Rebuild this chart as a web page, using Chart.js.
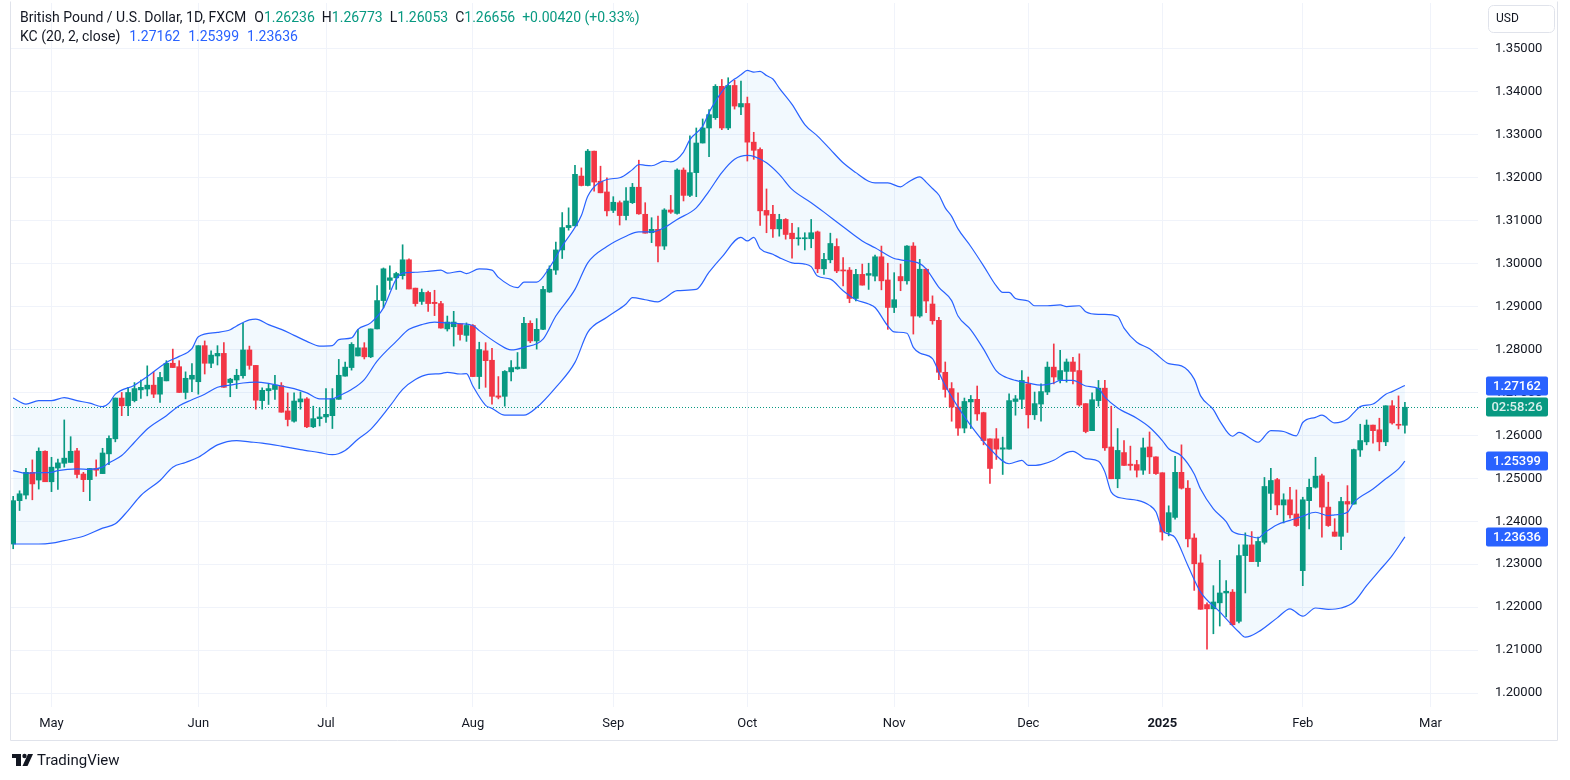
<!DOCTYPE html>
<html><head><meta charset="utf-8">
<script src="https://cdn.jsdelivr.net/npm/chart.js@4.4.1/dist/chart.umd.min.js"></script>
<style>html,body{margin:0;padding:0;background:#fff;}canvas{display:block;}</style>
</head><body>
<canvas id="c" width="1570" height="780"></canvas>
<script>
// ---- Daily OHLC, GBP/USD (FXCM), first bar = index -6 (Apr 23 2024) ----
const firstBarIndex = -6;
const openP = [
1.2347,1.2448,1.2461,1.2514,1.2496,1.2563,1.2492,1.2524,1.2535,1.2537,
1.2564,1.2510,1.2497,1.2523,1.2511,1.2557,1.2592,1.2687,1.2669,1.2681,
1.2706,1.2708,1.2717,1.2696,1.2727,1.2768,1.2760,1.2700,1.2731,1.2725,
1.2809,1.2768,1.2785,1.2791,1.2723,1.2729,1.2739,1.2799,1.2763,1.2681,
1.2704,1.2707,1.2716,1.2657,1.2633,1.2678,1.2685,1.2620,1.2639,1.2643,
1.2646,1.2684,1.2738,1.2758,1.2785,1.2804,1.2783,1.2848,1.2914,1.2961,
1.2967,1.2972,1.3009,1.2943,1.2912,1.2933,1.2910,1.2907,1.2848,1.2853,
1.2860,1.2833,1.2856,1.2737,1.2797,1.2775,1.2692,1.2691,1.2748,1.2755,
1.2756,1.2861,1.2820,1.2847,1.2934,1.2985,1.3032,1.3084,1.3088,1.3204,
1.3182,1.3262,1.3192,1.3167,1.3124,1.3142,1.3112,1.3142,1.3178,1.3115,
1.3072,1.3080,1.3041,1.3125,1.3117,1.3218,1.3159,1.3212,1.3281,1.3316,
1.3340,1.3413,1.3316,1.3415,1.3365,1.3373,1.3283,1.3266,1.3124,1.3115,
1.3081,1.3103,1.3071,1.3058,1.3058,1.3058,1.3074,1.2988,1.3009,1.3040,
1.2985,1.2985,1.2919,1.2975,1.2973,1.2971,1.3016,1.2962,1.2898,1.2970,
1.2960,1.3041,1.2878,1.2987,1.2906,1.2868,1.2747,1.2709,1.2666,1.2617,
1.2678,1.2684,1.2653,1.2592,1.2592,1.2568,1.2568,1.2679,1.2684,1.2720,
1.2648,1.2673,1.2701,1.2759,1.2730,1.2749,1.2771,1.2751,1.2674,1.2611,
1.2681,1.2710,1.2573,1.2499,1.2560,1.2533,1.2532,1.2519,1.2573,1.2550,
1.2513,1.2375,1.2409,1.2514,1.2477,1.2361,1.2303,1.2206,1.2196,1.2210,
1.2233,1.2235,1.2167,1.2320,1.2345,1.2306,1.2351,1.2465,1.2497,1.2438,
1.2450,1.2417,1.2285,1.2448,1.2479,1.2506,1.2433,1.2375,1.2365,1.2446,
1.2440,1.2566,1.2585,1.2624,1.2613,1.2585,1.2669,1.2624,1.26236];
const highP = [
1.2458,1.2471,1.2523,1.2543,1.2571,1.2564,1.2549,1.2545,1.2636,1.2597,
1.2570,1.2514,1.2523,1.2543,1.2570,1.2599,1.2687,1.2700,1.2712,1.2723,
1.2729,1.2762,1.2748,1.2747,1.2774,1.2801,1.2774,1.2748,1.2767,1.2809,
1.2820,1.2797,1.2809,1.2816,1.2733,1.2754,1.2861,1.2808,1.2763,1.2711,
1.2719,1.2740,1.2723,1.2699,1.2699,1.2701,1.2688,1.2668,1.2664,1.2709,
1.2709,1.2777,1.2771,1.2816,1.2847,1.2816,1.2848,1.2949,1.2990,1.2995,
1.2980,1.3044,1.3011,1.2943,1.2941,1.2936,1.2938,1.2912,1.2878,1.2889,
1.2860,1.2862,1.2858,1.2817,1.2816,1.2803,1.2737,1.2751,1.2774,1.2793,
1.2875,1.2867,1.2872,1.2947,1.2995,1.3050,1.3119,1.3130,1.3229,1.3223,
1.3266,1.3262,1.3227,1.3200,1.3156,1.3146,1.3177,1.3187,1.3241,1.3142,
1.3107,1.3111,1.3128,1.3159,1.3221,1.3223,1.3298,1.3316,1.3337,1.3359,
1.3417,1.3429,1.3433,1.3427,1.3425,1.3388,1.3306,1.3270,1.3174,1.3136,
1.3115,1.3105,1.3094,1.3084,1.3072,1.3103,1.3076,1.3024,1.3071,1.3058,
1.3014,1.2991,1.2987,1.2999,1.3001,1.3020,1.3041,1.3001,1.2979,1.2999,
1.3042,1.3049,1.3010,1.2988,1.2925,1.2875,1.2771,1.2723,1.2699,1.2687,
1.2693,1.2715,1.2654,1.2592,1.2616,1.2596,1.2697,1.2693,1.2751,1.2736,
1.2701,1.2720,1.2771,1.2813,1.2798,1.2778,1.2782,1.2790,1.2674,1.2699,
1.2728,1.2728,1.2668,1.2616,1.2588,1.2575,1.2542,1.2594,1.2608,1.2550,
1.2513,1.2436,1.2551,1.2578,1.2495,1.2371,1.2322,1.2210,1.2250,1.2309,
1.2262,1.2241,1.2345,1.2373,1.2376,1.2363,1.2502,1.2523,1.2500,1.2464,
1.2479,1.2473,1.2456,1.2498,1.2549,1.2510,1.2491,1.2406,1.2456,1.2483,
1.2568,1.2626,1.2636,1.2624,1.2640,1.2669,1.2681,1.2692,1.26773];
const lowP = [
1.2336,1.2425,1.2452,1.2450,1.2475,1.2492,1.2469,1.2474,1.2526,1.2537,
1.2501,1.2469,1.2448,1.2505,1.2511,1.2532,1.2585,1.2646,1.2646,1.2678,
1.2686,1.2692,1.2688,1.2677,1.2727,1.2758,1.2700,1.2685,1.2702,1.2696,
1.2743,1.2758,1.2764,1.2712,1.2690,1.2709,1.2733,1.2754,1.2661,1.2661,
1.2672,1.2684,1.2654,1.2622,1.2631,1.2661,1.2618,1.2618,1.2622,1.2630,
1.2616,1.2684,1.2738,1.2752,1.2785,1.2778,1.2781,1.2848,1.2897,1.2940,
1.2940,1.2964,1.2941,1.2901,1.2905,1.2889,1.2879,1.2850,1.2843,1.2808,
1.2822,1.2819,1.2737,1.2709,1.2712,1.2673,1.2685,1.2668,1.2727,1.2754,
1.2756,1.2816,1.2801,1.2846,1.2933,1.2975,1.3012,1.3078,1.3088,1.3181,
1.3181,1.3169,1.3165,1.3111,1.3119,1.3090,1.3102,1.3140,1.3115,1.3071,
1.3049,1.3004,1.3033,1.3117,1.3115,1.3146,1.3156,1.3156,1.3281,1.3249,
1.3336,1.3312,1.3312,1.3360,1.3347,1.3239,1.3243,1.3089,1.3072,1.3061,
1.3064,1.3057,1.3013,1.3043,1.3032,1.3037,1.2979,1.2975,1.3002,1.2979,
1.2948,1.2909,1.2913,1.2950,1.2940,1.2960,1.2939,1.2847,1.2886,1.2937,
1.2952,1.2836,1.2875,1.2886,1.2859,1.2730,1.2689,1.2633,1.2600,1.2606,
1.2616,1.2635,1.2578,1.2488,1.2544,1.2509,1.2568,1.2647,1.2662,1.2617,
1.2637,1.2633,1.2695,1.2720,1.2722,1.2724,1.2720,1.2668,1.2606,1.2611,
1.2668,1.2565,1.2499,1.2478,1.2530,1.2519,1.2503,1.2509,1.2511,1.2509,
1.2356,1.2366,1.2405,1.2475,1.2340,1.2239,1.2195,1.2102,1.2138,1.2156,
1.2177,1.2158,1.2163,1.2233,1.2306,1.2295,1.2347,1.2427,1.2415,1.2396,
1.2407,1.2388,1.2250,1.2382,1.2477,1.2363,1.2388,1.2365,1.2334,1.2374,
1.2440,1.2551,1.2578,1.2582,1.2564,1.2576,1.2626,1.2615,1.26053];
const closeP = [
1.2448,1.2464,1.2514,1.2487,1.2563,1.2492,1.2526,1.2536,1.2547,1.2563,
1.2509,1.2497,1.2523,1.2519,1.2559,1.2593,1.2687,1.2669,1.2700,1.2709,
1.2712,1.2717,1.2696,1.2735,1.2768,1.2758,1.2700,1.2733,1.2740,1.2809,
1.2768,1.2787,1.2791,1.2712,1.2731,1.2740,1.2799,1.2763,1.2682,1.2705,
1.2709,1.2717,1.2654,1.2637,1.2680,1.2685,1.2620,1.2639,1.2643,1.2649,
1.2685,1.2740,1.2759,1.2812,1.2804,1.2783,1.2848,1.2914,1.2988,1.2967,
1.2977,1.3009,1.2941,1.2907,1.2933,1.2907,1.2907,1.2850,1.2864,1.2864,
1.2835,1.2856,1.2737,1.2800,1.2774,1.2691,1.2689,1.2749,1.2758,1.2759,
1.2861,1.2820,1.2847,1.2940,1.2987,1.3032,1.3084,1.3089,1.3208,1.3182,
1.3262,1.3190,1.3165,1.3123,1.3143,1.3112,1.3146,1.3178,1.3116,1.3071,
1.3080,1.3041,1.3125,1.3120,1.3218,1.3159,1.3212,1.3281,1.3316,1.3347,
1.3413,1.3316,1.3415,1.3367,1.3373,1.3283,1.3264,1.3123,1.3113,1.3081,
1.3103,1.3068,1.3058,1.3060,1.3060,1.3072,1.2988,1.3010,1.3047,1.2983,
1.2983,1.2919,1.2975,1.2950,1.2977,1.3016,1.2960,1.2898,1.2916,1.2960,
1.3041,1.2878,1.2987,1.2913,1.2867,1.2747,1.2707,1.2666,1.2617,1.2679,
1.2684,1.2650,1.2588,1.2523,1.2568,1.2571,1.2681,1.2685,1.2728,1.2648,
1.2674,1.2702,1.2759,1.2736,1.2751,1.2771,1.2749,1.2671,1.2609,1.2683,
1.2710,1.2571,1.2499,1.2565,1.2530,1.2530,1.2519,1.2571,1.2550,1.2511,
1.2375,1.2420,1.2514,1.2477,1.2359,1.2301,1.2195,1.2196,1.2212,1.2233,
1.2237,1.2159,1.2320,1.2345,1.2306,1.2353,1.2481,1.2495,1.2438,1.2450,
1.2415,1.2390,1.2450,1.2479,1.2505,1.2433,1.2390,1.2365,1.2446,1.2440,
1.2567,1.2588,1.2624,1.2611,1.2585,1.2669,1.2629,1.26236,1.26656];

// ---- Keltner Channel (20, 2, close) at these bar indices ----
const upperX = [-6,-4,-2,0,2,4,6,8,9,10,13,15,18,20,22,23,26,28,29,31,32,34,36,38,40,42,44,45,47,48,50,52,54,55,57,59,61,62,64,65,67,69,70,73,74,76,78,80,83,84,87,89,91,92,93,94,96,97,99,100,102,103,104,105,106,107,108,109,110,111,112,113,114,116,118,120,122,124,126,128,129,131,133,134,136,137,138,139,140,141,142,144,146,148,149,150,151,153,154,156,158,159,161,162,164,165,167,168,170,172,173,175,177,179,180,182,183,185,186,188,189,191,193,195,196,198,199,201,203,204,205,207,209,210,212];
const upperY = [1.2687,1.2673,1.2681,1.2681,1.2688,1.2681,1.2675,1.2667,1.2675,1.2696,1.2717,1.2737,1.2770,1.2784,1.2802,1.2830,1.2840,1.2846,1.2855,1.2869,1.2871,1.2858,1.2847,1.2833,1.2819,1.2808,1.2809,1.2823,1.2827,1.2847,1.2862,1.2897,1.2964,1.2978,1.2980,1.2982,1.2985,1.2978,1.2982,1.2977,1.2988,1.2985,1.2968,1.2944,1.2957,1.2957,1.2991,1.3041,1.3112,1.3157,1.3196,1.3200,1.3219,1.3231,1.3229,1.3228,1.3239,1.3237,1.3260,1.3289,1.3320,1.3352,1.3378,1.3400,1.3418,1.3430,1.3440,1.3450,1.3446,1.3448,1.3438,1.3430,1.3409,1.3371,1.3324,1.3297,1.3266,1.3235,1.3212,1.3192,1.3188,1.3188,1.3179,1.3188,1.3202,1.3190,1.3175,1.3160,1.3130,1.3110,1.3081,1.3040,1.2995,1.2948,1.2933,1.2933,1.2919,1.2913,1.2902,1.2902,1.2904,1.2900,1.2902,1.2888,1.2882,1.2882,1.2877,1.2850,1.2817,1.2802,1.2790,1.2767,1.2762,1.2731,1.2692,1.2660,1.2634,1.2598,1.2607,1.2591,1.2584,1.2611,1.2609,1.2599,1.2630,1.2642,1.2647,1.2629,1.2638,1.2653,1.2667,1.2673,1.2696,1.2702,1.27162];
const middleX = [-6,-4,-2,0,1,4,6,8,9,11,13,15,18,20,22,24,26,28,30,32,34,36,38,40,42,44,45,47,49,51,54,56,58,60,62,64,66,67,70,72,74,77,79,82,84,87,90,92,94,96,98,101,103,105,107,109,110,112,114,116,119,121,124,127,129,132,133,136,137,139,141,142,144,146,148,149,151,153,155,157,158,160,162,164,165,167,170,172,174,175,177,179,180,182,184,185,187,189,190,192,194,196,198,200,201,203,204,207,209,211,212];
const middleY = [1.2518,1.2512,1.2513,1.2514,1.2518,1.2522,1.2521,1.2526,1.2536,1.2553,1.2584,1.2615,1.2646,1.2669,1.2683,1.2696,1.2712,1.2717,1.2722,1.2724,1.2721,1.2715,1.2709,1.2699,1.2685,1.2685,1.2692,1.2707,1.2730,1.2773,1.2819,1.2847,1.2858,1.2864,1.2862,1.2860,1.2856,1.2844,1.2813,1.2799,1.2805,1.2824,1.2878,1.2940,1.3002,1.3040,1.3064,1.3074,1.3074,1.3084,1.3103,1.3130,1.3169,1.3212,1.3243,1.3252,1.3250,1.3235,1.3208,1.3173,1.3142,1.3120,1.3086,1.3053,1.3037,1.3012,1.3009,1.3000,1.2988,1.2945,1.2914,1.2878,1.2846,1.2801,1.2750,1.2739,1.2728,1.2722,1.2717,1.2722,1.2728,1.2728,1.2715,1.2709,1.2689,1.2664,1.2640,1.2619,1.2588,1.2569,1.2552,1.2510,1.2475,1.2429,1.2399,1.2376,1.2368,1.2361,1.2373,1.2392,1.2402,1.2412,1.2421,1.2413,1.2415,1.2421,1.2444,1.2475,1.2499,1.2522,1.25399];
const lowerX = [-6,-4,-2,0,2,5,8,10,12,14,17,19,21,23,26,29,31,33,36,39,42,44,46,48,50,53,55,57,59,61,62,64,65,66,68,69,71,74,76,79,82,84,87,90,91,93,95,96,98,101,103,105,108,109,110,111,113,114,116,118,119,120,122,124,126,128,129,131,132,134,135,136,138,139,140,142,144,147,150,152,153,155,157,159,160,162,164,165,166,168,170,172,173,174,175,176,178,180,183,186,187,189,192,194,196,198,200,202,204,206,208,210,212];
const lowerY = [1.2347,1.2347,1.2347,1.2349,1.2355,1.2365,1.2384,1.2394,1.2425,1.2460,1.2495,1.2526,1.2537,1.2549,1.2578,1.2588,1.2585,1.2582,1.2575,1.2567,1.2560,1.2555,1.2565,1.2591,1.2614,1.2668,1.2707,1.2730,1.2742,1.2744,1.2747,1.2743,1.2744,1.2715,1.2670,1.2663,1.2647,1.2647,1.2665,1.2712,1.2770,1.2840,1.2875,1.2906,1.2921,1.2916,1.2911,1.2919,1.2937,1.2940,1.2980,1.3015,1.3061,1.3053,1.3061,1.3035,1.3022,1.3014,1.3002,1.2999,1.2993,1.2971,1.2964,1.2937,1.2916,1.2906,1.2898,1.2855,1.2841,1.2838,1.2805,1.2792,1.2779,1.2747,1.2716,1.2666,1.2623,1.2569,1.2534,1.2542,1.2530,1.2532,1.2542,1.2560,1.2563,1.2546,1.2540,1.2515,1.2468,1.2453,1.2449,1.2437,1.2422,1.2379,1.2370,1.2362,1.2297,1.2235,1.2189,1.2142,1.2130,1.2142,1.2175,1.2196,1.2179,1.2198,1.2195,1.2198,1.2212,1.2250,1.2285,1.2320,1.23636];

// ---- Axis ticks ----
const monthIdx = [0,23,43,66,88,109,132,153,174,196,216];
const monthLabels = ['May','Jun','Jul','Aug','Sep','Oct','Nov','Dec','2025','Feb','Mar'];
const priceTicks = [1.20,1.21,1.22,1.23,1.24,1.25,1.26,1.27,1.28,1.29,1.30,1.31,1.32,1.33,1.34,1.35];

const UP = '#089981', DN = '#F23645', KC = '#2962FF', TXT = '#131722', GRID = '#F0F3FA';
const FONT = 'Roboto, "Open Sans", sans-serif';

const barX = openP.map((_, i) => i + firstBarIndex);
const colors = openP.map((o, i) => closeP[i] >= o ? UP : DN);
const wickData = barX.map((x, i) => ({x, y: [lowP[i], highP[i]]}));
const bodyData = barX.map((x, i) => ({x, y: [openP[i], closeP[i]]}));
const pts = (xs, ys) => xs.map((x, i) => ({x, y: ys[i]}));
const last = a => a[a.length - 1];

const chromePlugin = {
  id: 'chrome',
  beforeDatasetsDraw(chart) {
    const {ctx, chartArea: a, scales: {y}} = chart;
    const py = Math.round(y.getPixelForValue(last(closeP))) + 0.5;
    ctx.save();
    ctx.strokeStyle = UP; ctx.lineWidth = 1; ctx.setLineDash([1, 2]);
    ctx.beginPath(); ctx.moveTo(a.left, py); ctx.lineTo(a.right, py); ctx.stroke();
    ctx.restore();
  },
  afterDraw(chart) {
    const {ctx, scales: {y}} = chart;
    ctx.save();
    // frame
    ctx.strokeStyle = '#E0E3EB'; ctx.lineWidth = 1;
    ctx.beginPath();
    ctx.moveTo(10.5, 1.5); ctx.lineTo(10.5, 740.5); ctx.lineTo(1557.5, 740.5); ctx.lineTo(1557.5, 1.5);
    ctx.stroke();
    // header
    ctx.textBaseline = 'middle';
    ctx.font = '14px ' + FONT;
    let x = 20;
    const seg = (t, c, gap) => { ctx.fillStyle = c; ctx.fillText(t, x, 18); x += ctx.measureText(t).width + (gap || 0); };
    seg('British Pound / U.S. Dollar, 1D, FXCM', TXT, 8);
    const o = last(openP), h = last(highP), l = last(lowP), c = last(closeP), pc = closeP[closeP.length - 2];
    seg('O', TXT); seg(o.toFixed(5), UP, 7);
    seg('H', TXT); seg(h.toFixed(5), UP, 7);
    seg('L', TXT); seg(l.toFixed(5), UP, 7);
    seg('C', TXT); seg(c.toFixed(5), UP, 7);
    const ch = c - pc;
    seg((ch >= 0 ? '+' : '') + ch.toFixed(5) + ' (' + (ch >= 0 ? '+' : '') + (ch / pc * 100).toFixed(2) + '%)', UP);
    x = 20;
    const seg2 = (t, cc, gap) => { ctx.fillStyle = cc; ctx.fillText(t, x, 37); x += ctx.measureText(t).width + (gap || 0); };
    seg2('KC (20, 2, close)', TXT, 9);
    seg2(last(upperY).toFixed(5), KC, 8);
    seg2(last(middleY).toFixed(5), KC, 8);
    seg2(last(lowerY).toFixed(5), KC, 8);
    // price tags on axis
    const tag = (v, text, bg, fg) => {
      const cy = Math.round(y.getPixelForValue(v));
      ctx.fillStyle = bg;
      ctx.beginPath(); ctx.roundRect(1486, cy - 9.5, 62, 19, 2); ctx.fill();
      ctx.fillStyle = fg; ctx.font = '500 13px ' + FONT; ctx.textAlign = 'center';
      ctx.fillText(text, 1517, cy + 0.5);
      ctx.textAlign = 'left';
    };
    tag(last(upperY), last(upperY).toFixed(5), KC, '#fff');
    tag(last(closeP), '02:58:26', UP, 'rgba(255,255,255,0.85)');
    tag(last(middleY), last(middleY).toFixed(5), KC, '#fff');
    tag(last(lowerY), last(lowerY).toFixed(5), KC, '#fff');
    // USD box
    ctx.strokeStyle = '#E0E3EB';
    ctx.beginPath(); ctx.roundRect(1488.5, 5.5, 66, 27, 5); ctx.stroke();
    ctx.fillStyle = TXT; ctx.font = '12px ' + FONT; ctx.fillText('USD', 1496, 19);
    // TradingView logo
    ctx.fillStyle = TXT;
    ctx.fillRect(12, 754, 9, 4); ctx.fillRect(16, 754, 5, 12);
    ctx.beginPath(); ctx.arc(24.5, 756, 2.2, 0, Math.PI * 2); ctx.fill();
    ctx.beginPath(); ctx.moveTo(28, 754); ctx.lineTo(33, 754); ctx.lineTo(27.5, 766); ctx.lineTo(22.5, 766); ctx.closePath(); ctx.fill();
    ctx.font = '15px ' + FONT; ctx.fillText('TradingView', 37, 761);
    ctx.restore();
  }
};

new Chart(document.getElementById('c'), {
  type: 'bar',
  data: {
    datasets: [
      {type: 'line', label: 'Upper', data: pts(upperX, upperY), borderColor: KC, borderWidth: 1.2, pointRadius: 0,
       cubicInterpolationMode: 'monotone', fill: {target: 2}, backgroundColor: 'rgba(33,150,243,0.06)'},
      {type: 'line', label: 'Basis', data: pts(middleX, middleY), borderColor: KC, borderWidth: 1.2, pointRadius: 0,
       cubicInterpolationMode: 'monotone', fill: false},
      {type: 'line', label: 'Lower', data: pts(lowerX, lowerY), borderColor: KC, borderWidth: 1.2, pointRadius: 0,
       cubicInterpolationMode: 'monotone', fill: false},
      {label: 'Body', data: bodyData, backgroundColor: colors, borderWidth: 0, barThickness: 5, minBarLength: 1, grouped: false},
      {label: 'Wick', data: wickData, backgroundColor: colors, borderWidth: 0, barThickness: 1, grouped: false}
    ]
  },
  options: {
    responsive: false, animation: false,
    layout: {padding: {left: 10, top: 3, right: 0, bottom: 40}},
    plugins: {legend: {display: false}, tooltip: {enabled: false}, filler: {drawTime: 'beforeDatasetsDraw'}},
    scales: {
      x: {
        type: 'linear', offset: false, min: -6.5, max: 223.45,
        afterBuildTicks: s => { s.ticks = monthIdx.map(v => ({value: v})); },
        afterFit: s => { s.height = 33; s.paddingLeft = 0; s.paddingRight = 0; },
        grid: {color: GRID, drawTicks: false, offset: false}, border: {display: false},
        ticks: {
          autoSkip: false, maxRotation: 0, padding: 9, color: TXT,
          font: c => ({family: FONT, size: 13, weight: (c.tick && c.tick.value === 174) ? 'bold' : 'normal'}),
          callback: v => { const k = monthIdx.indexOf(v); return k >= 0 ? monthLabels[k] : ''; }
        }
      },
      y: {
        position: 'right', min: 1.19674, max: 1.36071,
        afterBuildTicks: s => { s.ticks = priceTicks.map(v => ({value: v})); },
        afterFit: s => { s.width = 92; s.paddingTop = 0; s.paddingBottom = 0; },
        grid: {color: GRID, drawTicks: false}, border: {display: false},
        ticks: {padding: 17, color: TXT, font: {family: FONT, size: 13}, callback: v => v.toFixed(5)}
      }
    }
  },
  plugins: [chromePlugin]
});
</script>
</body></html>
